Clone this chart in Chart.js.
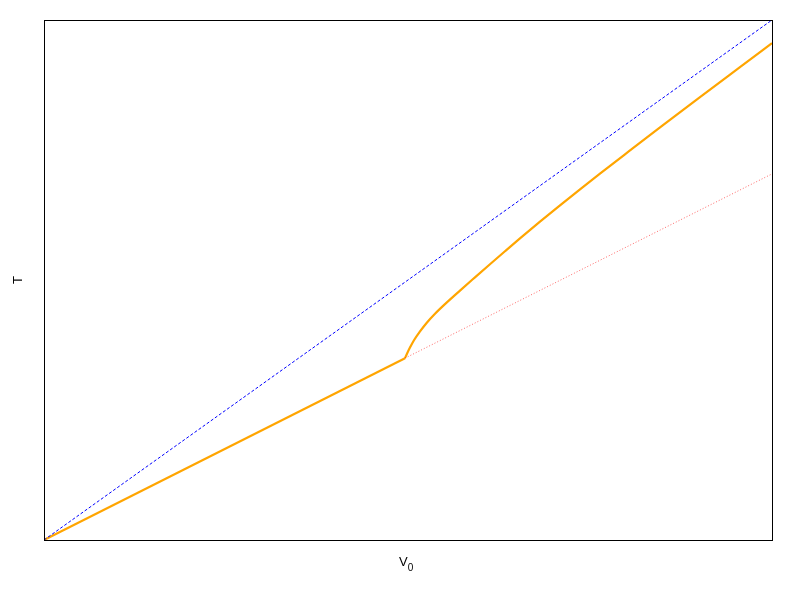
<!DOCTYPE html>
<html>
<head>
<meta charset="utf-8">
<script src="https://cdn.jsdelivr.net/npm/chart.js@4/dist/chart.umd.min.js"></script>
<style>
  html, body { margin: 0; padding: 0; background: #ffffff; }
  #wrap { width: 800px; height: 600px; }
</style>
</head>
<body>
<div id="wrap"><canvas id="c" width="800" height="600"></canvas></div>
<script>
// ---- data (V0 and T in relative units) ----
const xTitleMain = 'V';
const xTitleSub = '0';
const yTitle = 'T';

// reference line T = V0 (blue, dashed)
const diagV0 = [0, 1];
const diagT  = [0, 1];

// lower linear branch (orange, solid) up to the kink
const lowV0 = [0, 0.4959];
const lowT  = [0, 0.3497];

// continuation of lower branch (red, dotted)
const extV0 = [0.4959, 1];
const extT  = [0.3497, 0.704];

// upper branch after the kink (orange, solid)
const upV0 = [0.4959, 0.4986, 0.5027, 0.5082, 0.5165, 0.5261, 0.5371, 0.5508, 0.5714, 0.5920, 0.6126, 0.6332, 0.6538, 0.6813, 0.7088, 0.7363, 0.7637, 0.8049, 0.8462, 0.9011, 0.9560, 1];
const upT  = [0.3497, 0.3582, 0.3700, 0.3842, 0.4011, 0.4184, 0.4352, 0.4537, 0.4797, 0.5051, 0.5303, 0.5553, 0.5800, 0.6121, 0.6434, 0.6742, 0.7045, 0.7491, 0.7935, 0.8517, 0.9093, 0.9554];

const toPts = (xs, ys) => xs.map((x, i) => ({ x: x, y: ys[i] }));

const boxPlugin = {
  id: 'box',
  afterDraw(chart) {
    const { ctx, chartArea: a } = chart;
    ctx.save();
    ctx.strokeStyle = '#000000';
    ctx.lineWidth = 1;
    ctx.strokeRect(Math.round(a.left) + 0.5, Math.round(a.top) + 0.5,
                   Math.round(a.right - a.left), Math.round(a.bottom - a.top));
    // x-axis title with subscript
    const cx = (a.left + a.right) / 2;
    ctx.fillStyle = '#000000';
    ctx.textBaseline = 'alphabetic';
    ctx.textAlign = 'left';
    ctx.font = '13px "Liberation Sans", Arial, sans-serif';
    ctx.fillText(xTitleMain, cx - 9, a.bottom + 26);
    const w = ctx.measureText(xTitleMain).width;
    ctx.font = '10px "Liberation Sans", Arial, sans-serif';
    ctx.fillText(xTitleSub, cx - 9 + w, a.bottom + 31);
    ctx.restore();
  }
};

new Chart(document.getElementById('c'), {
  type: 'scatter',
  data: {
    datasets: [
      { data: toPts(diagV0, diagT), showLine: true, borderColor: '#0000ff', borderWidth: 1,
        borderDash: [3, 2], pointRadius: 0, tension: 0 },
      { data: toPts(extV0, extT), showLine: true, borderColor: 'rgba(255,0,0,0.6)', borderWidth: 1,
        borderDash: [1, 2], pointRadius: 0, tension: 0 },
      { data: toPts(lowV0, lowT), showLine: true, borderColor: '#ffa500', borderWidth: 2.2,
        pointRadius: 0, tension: 0 },
      { data: toPts(upV0, upT), showLine: true, borderColor: '#ffa500', borderWidth: 2.2,
        pointRadius: 0, cubicInterpolationMode: 'monotone' }
    ]
  },
  options: {
    responsive: false,
    animation: false,
    events: [],
    layout: { padding: { left: 0, right: 28, top: 20, bottom: 60 } },
    plugins: { legend: { display: false }, tooltip: { enabled: false } },
    scales: {
      x: {
        type: 'linear', min: 0, max: 1,
        grid: { display: false, drawTicks: false },
        border: { display: false },
        ticks: { display: false },
        title: { display: false }
      },
      y: {
        type: 'linear', min: 0, max: 1,
        grid: { display: false, drawTicks: false },
        border: { display: false },
        ticks: { display: false },
        title: { display: true, text: yTitle, color: '#000000',
                 font: { family: 'Liberation Sans', size: 13, lineHeight: 1 },
                 padding: { top: 11.5, bottom: 19.5 } }
      }
    }
  },
  plugins: [boxPlugin]
});
</script>
</body>
</html>
